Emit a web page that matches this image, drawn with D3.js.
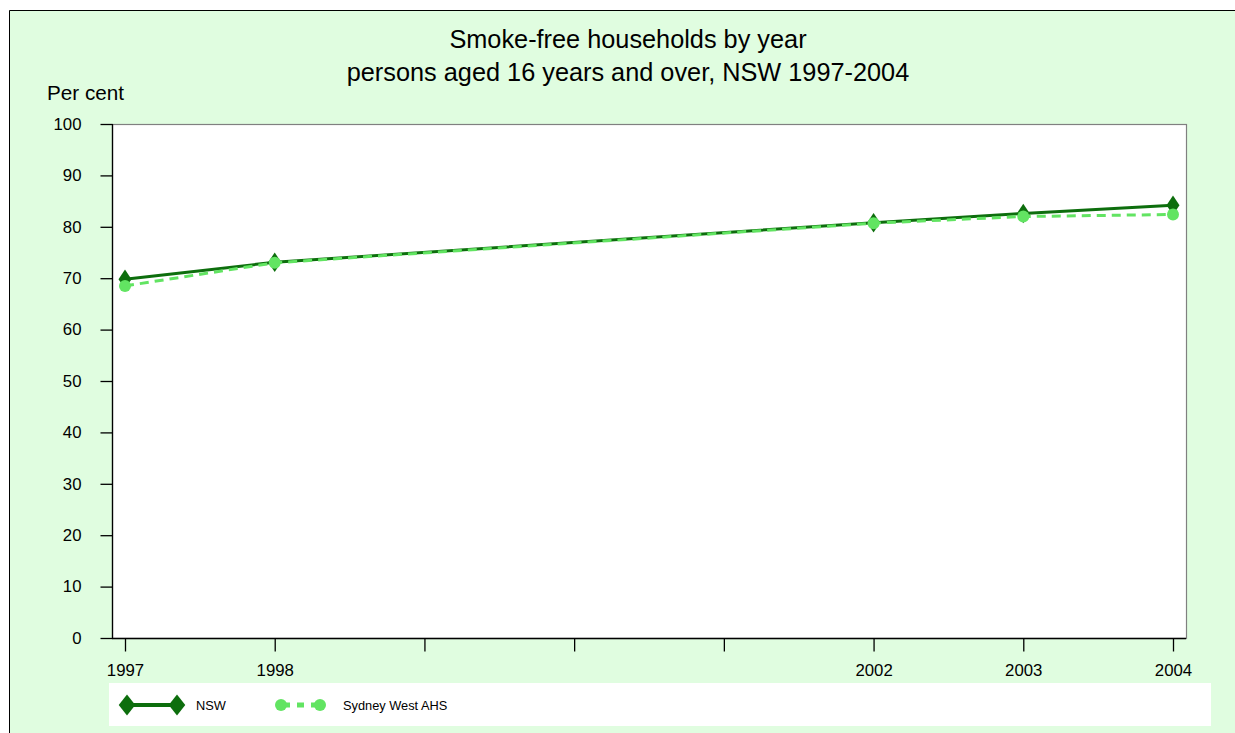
<!DOCTYPE html>
<html>
<head>
<meta charset="utf-8">
<script src="https://cdn.jsdelivr.net/npm/d3@7"></script>
<style>
  html, body { margin: 0; padding: 0; background: #ffffff; overflow: hidden; }
  svg { display: block; font-family: "Liberation Sans", Arial, sans-serif; }
</style>
</head>
<body>
<svg id="chart" width="1235" height="733"></svg>
<script>
// ---- Data ----
const years = [1997, 1998, 2002, 2003, 2004];
const allTickYears = [1997, 1998, 1999, 2000, 2001, 2002, 2003, 2004];
const nswValues = [69.8, 73.1, 80.8, 82.6, 84.2];
const sydneyWestValues = [68.5, 73.0, 80.7, 82.0, 82.4];
const seriesNames = ["NSW", "Sydney West AHS"];
const yTicks = [0, 10, 20, 30, 40, 50, 60, 70, 80, 90, 100];
const titleLines = ["Smoke-free households by year", "persons aged 16 years and over, NSW 1997-2004"];
const yAxisLabel = "Per cent";

// ---- Layout ----
const svg = d3.select("#chart");
const W = 1235, H = 733;
const plot = { left: 112, right: 1186, top: 124, bottom: 638 };
const nswColor = "#0d6e0d";
const swColor = "#62e462";

// outer frame (background + top/left border only; it continues beyond the window)
svg.append("rect")
  .attr("x", 9).attr("y", 10)
  .attr("width", W).attr("height", H)
  .attr("fill", "#e0fde0");
svg.append("path")
  .attr("d", `M9.5,${H}V10.5H${W}`)
  .attr("fill", "none").attr("stroke", "#000").attr("stroke-width", 1);

// scales
const x = d3.scaleLinear().domain([1997, 2004]).range([125, 1173]);
const y = d3.scaleLinear().domain([0, 100]).range([plot.bottom, plot.top]);

// plot area
svg.append("rect")
  .attr("x", plot.left + 0.5).attr("y", plot.top + 0.5)
  .attr("width", plot.right - plot.left).attr("height", plot.bottom - plot.top)
  .attr("fill", "#ffffff").attr("stroke", "#808080").attr("stroke-width", 1.2);

// title
svg.append("g").selectAll("text").data(titleLines).join("text")
  .attr("x", 628).attr("y", (d, i) => 48 + i * 33)
  .attr("text-anchor", "middle")
  .attr("font-size", 25.3).attr("fill", "#000")
  .text(d => d);

// y axis label
svg.append("text").attr("x", 47).attr("y", 99.5)
  .attr("font-size", 20.7).attr("fill", "#000").text(yAxisLabel);

// y axis
const yAxis = d3.axisLeft(y).tickValues(yTicks).tickSize(12).tickPadding(19).tickFormat(d3.format("d"));
const gy = svg.append("g").attr("transform", `translate(${plot.left + 0.5},0)`).call(yAxis);
gy.select(".domain").attr("stroke", "#000").attr("stroke-width", 1.3).attr("d", `M0,${plot.top}V${plot.bottom + 0.5}`);
gy.selectAll(".tick line").attr("stroke", "#000").attr("stroke-width", 1.3);
gy.selectAll(".tick text").attr("font-size", 16.8).attr("fill", "#000").attr("font-family", "Liberation Sans, Arial, sans-serif");

// x axis
const xAxis = d3.axisBottom(x).tickValues(allTickYears).tickSize(13).tickPadding(13)
  .tickFormat(d => years.includes(d) ? String(d) : "");
const gx = svg.append("g").attr("transform", `translate(0,${plot.bottom + 0.5})`).call(xAxis);
gx.select(".domain").attr("stroke", "#000").attr("stroke-width", 1.3).attr("d", `M${plot.left},0H${plot.right}`);
gx.selectAll(".tick line").attr("stroke", "#000").attr("stroke-width", 1.3);
gx.selectAll(".tick text").attr("font-size", 16.8).attr("fill", "#000").attr("font-family", "Liberation Sans, Arial, sans-serif");

// series
const nswData = years.map((yr, i) => ({ yr, v: nswValues[i] }));
const swData = years.map((yr, i) => ({ yr, v: sydneyWestValues[i] }));
const line = d3.line().x(d => x(d.yr)).y(d => y(d.v));

const diamond = d3.symbol().type(d3.symbolDiamond).size(110);

svg.append("path").datum(nswData).attr("d", line)
  .attr("fill", "none").attr("stroke", nswColor).attr("stroke-width", 3);
svg.append("g").selectAll("path").data(nswData).join("path")
  .attr("d", diamond)
  .attr("transform", d => `translate(${x(d.yr)},${y(d.v)}) scale(1.15,1)`)
  .attr("fill", nswColor);

svg.append("path").datum(swData).attr("d", line)
  .attr("fill", "none").attr("stroke", swColor).attr("stroke-width", 3)
  .attr("stroke-dasharray", "9,6");
svg.append("g").selectAll("circle").data(swData).join("circle")
  .attr("cx", d => x(d.yr)).attr("cy", d => y(d.v)).attr("r", 6)
  .attr("fill", swColor);

// legend
const legend = svg.append("g");
legend.append("rect").attr("x", 109).attr("y", 683).attr("width", 1102).attr("height", 43).attr("fill", "#ffffff");
const legItems = [
  { name: seriesNames[0], color: nswColor, x0: 127, x1: 177, tx: 196, type: "diamond" },
  { name: seriesNames[1], color: swColor, x0: 281, x1: 320, tx: 343, type: "circle" }
];
legItems.forEach(it => {
  legend.append("line").attr("x1", it.x0).attr("x2", it.x1).attr("y1", 705).attr("y2", 705)
    .attr("stroke", it.color).attr("stroke-width", it.type === "diamond" ? 4 : 5)
    .attr("stroke-dasharray", it.type === "circle" ? "7,7" : null)
    .attr("stroke-dashoffset", it.type === "circle" ? -2 : null);
  [it.x0, it.x1].forEach(px => {
    if (it.type === "diamond") {
      legend.append("path").attr("d", d3.symbol().type(d3.symbolDiamond).size(130))
        .attr("transform", `translate(${px},705) scale(1.35,1)`).attr("fill", it.color);
    } else {
      legend.append("circle").attr("cx", px).attr("cy", 705).attr("r", 6).attr("fill", it.color);
    }
  });
  legend.append("text").attr("x", it.tx).attr("y", 709.5).attr("font-size", 12.8).attr("fill", "#000").text(it.name);
});
</script>
</body>
</html>
